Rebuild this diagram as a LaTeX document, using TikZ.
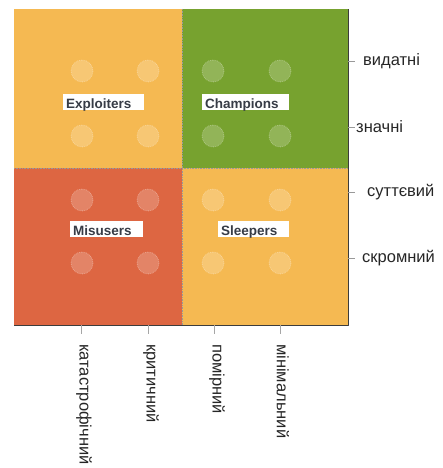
\documentclass[tikz,border=0pt]{standalone}
\usepackage{fontspec}
\setmainfont{Liberation Sans}
\definecolor{quadorange}{RGB}{245,185,82}
\definecolor{quadgreen}{RGB}{119,162,47}
\definecolor{quadred}{RGB}{221,102,66}
\definecolor{axisgray}{RGB}{60,60,60}
\definecolor{labelgray}{RGB}{55,60,70}
\begin{document}
\begin{tikzpicture}[x=1pt,y=-1pt,line join=round,
    dot/.style={fill=white,fill opacity=0.2,draw=white,draw opacity=0.3,densely dotted,line width=0.8pt},
    quadlabel/.style={fill=white,text=labelgray,font=\fontsize{13.5}{15}\selectfont\bfseries,
      anchor=south west,inner xsep=3pt,inner ysep=1pt,text height=14pt,text depth=0pt,align=left},
    ticklabel/.style={font=\fontsize{16.5}{18}\selectfont,text=black!85,inner sep=0pt}]
  \useasboundingbox (0,0) rectangle (442,468);
  % quadrants
  \fill[quadorange] (14,9) rectangle (182,168);
  \fill[quadgreen] (182,9) rectangle (348,168);
  \fill[quadred] (14,168) rectangle (182,325);
  \fill[quadorange] (182,168) rectangle (348,325);
  \draw[densely dotted,black!40,line width=0.6pt] (182,9) -- (182,325);
  \draw[densely dotted,black!40,line width=0.6pt] (14,168) -- (348,168);
  \foreach \x in {82,148,213,280} {
      \foreach \y in {71,136,200,263} {
          \filldraw[dot] (\x,\y) circle (11);
        }
    }

  \node[quadlabel,text width=75pt] (exploiters) at (63,110) {Exploiters};
  \node[quadlabel,text width=81pt] (champions) at (202,110) {Champions};
  \node[quadlabel,text width=67pt] (misusers) at (70,237) {Misusers};
  \node[quadlabel,text width=65pt] (sleepers) at (218,237) {Sleepers};

  % axes
  \draw[axisgray,line width=1pt] (14,325) -- (348,325) -- (348,9);
  \foreach \y/\xs/\name/\txt in {61/363/vydatni/видатні,127/356/znachni/значні,
      192/367/suttevyi/суттєвий,258/362/skromnyi/скромний} {
      \draw[black!40] (348,\y) -- (355,\y);
      \node[ticklabel,anchor=west] (\name) at (\xs,\y) {\txt};
    }
  \foreach \x/\name/\txt in {81/katastrof/катастрофічний,148/krytychnyi/критичний,
      214/pomirnyi/помірний,280/minimalnyi/мінімальний} {
      \draw[black!35] (\x,325) -- (\x,334);
      \node[ticklabel,rotate=-90,anchor=west] (\name) at (\x+3,344) {\txt};
    }
\end{tikzpicture}
\end{document}
